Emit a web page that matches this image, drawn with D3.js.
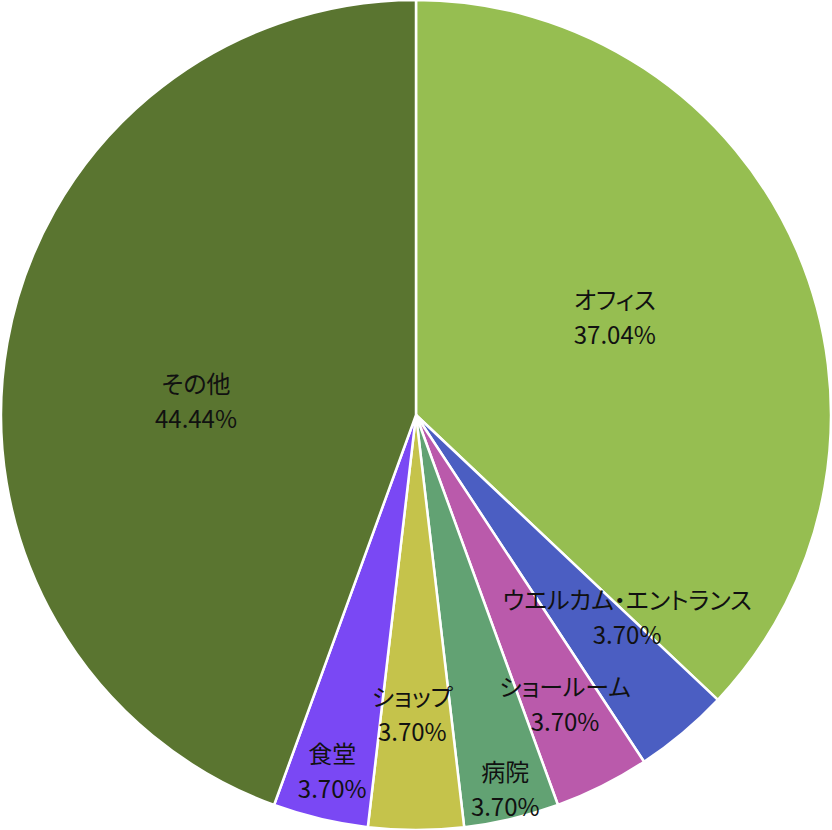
<!DOCTYPE html>
<html><head><meta charset="utf-8">
<script src="https://cdn.jsdelivr.net/npm/d3@7"></script>
<style>
html,body{margin:0;padding:0;background:#fff;}
text{font-family:"Noto Sans CJK JP","Noto Sans",sans-serif;font-feature-settings:"palt";}
</style></head>
<body><svg id="chart" width="832" height="830"></svg>
<script>
const categories = ["オフィス","ウエルカム・エントランス","ショールーム","病院","ショップ","食堂","その他"];
const values = [10,1,1,1,1,1,12];
const percentLabels = ["37.04%","3.70%","3.70%","3.70%","3.70%","3.70%","44.44%"];
const colors = ["#96BE51","#4B5EC2","#BA5AAB","#62A273","#C5C34B","#7A48F4","#5A7530"];
// label layout: polar angle (deg, clockwise from top) and radius fraction
const labelAngle = [64.0,133.8,152.8,166.6,180.7,193.2,273.4];
const labelRadius = [0.533,0.705,0.786,0.928,0.723,0.884,0.531];

const W=832,H=830,cx=416,cy=415,R=415;
const svg=d3.select("#chart");
const g=svg.append("g").attr("transform",`translate(${cx},${cy})`);
const data=categories.map((c,i)=>({cat:c,value:values[i],pct:percentLabels[i],color:colors[i],i}));
const pie=d3.pie().value(d=>d.value).sort(null);
const arc=d3.arc().innerRadius(0).outerRadius(R);
const arcs=pie(data);
g.selectAll("path").data(arcs).join("path")
 .attr("d",arc).attr("fill",d=>d.data.color)
 .attr("stroke","#fff").attr("stroke-width",2.5).attr("stroke-linejoin","round");
const lab=g.selectAll("text.lab").data(arcs).join("text").attr("class","lab")
 .attr("transform",d=>{const a=labelAngle[d.data.i]*Math.PI/180,r=labelRadius[d.data.i]*R;
   return `translate(${r*Math.sin(a)},${-r*Math.cos(a)})`;})
 .attr("text-anchor","middle").attr("font-size",24).attr("fill","#111");
lab.append("tspan").attr("x",0).attr("y",-9).text(d=>d.data.cat);
lab.append("tspan").attr("x",0).attr("y",26).text(d=>d.data.pct);
</script></body></html>
